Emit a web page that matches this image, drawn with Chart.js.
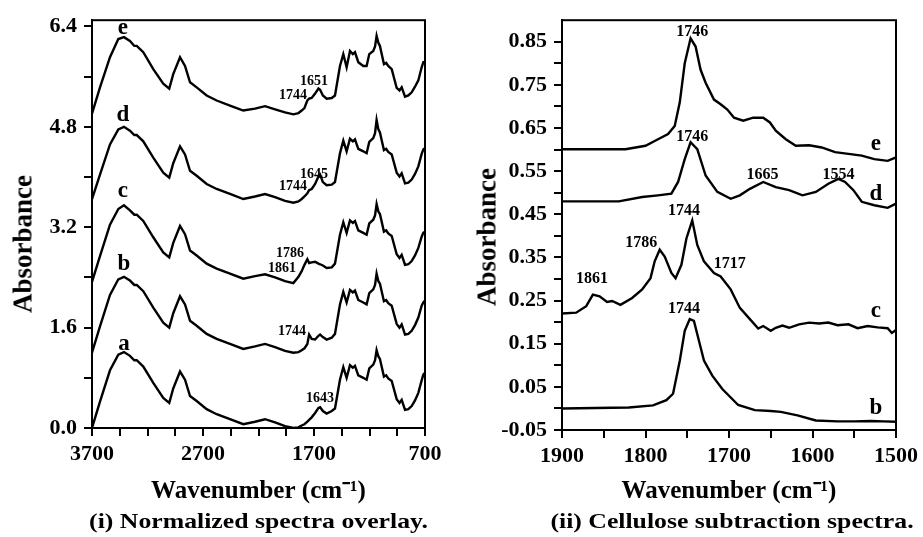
<!DOCTYPE html>
<html>
<head>
<meta charset="utf-8">
<script src="https://cdn.jsdelivr.net/npm/chart.js@4.4.1/dist/chart.umd.min.js"></script>
<style>
  html, body { margin: 0; padding: 0; background: #fff; }
  #wrap { position: relative; width: 923px; height: 537px; background: #fff; overflow: hidden; }
  .panel { position: absolute; top: 0; height: 537px; }
  .ytitle { position: absolute; transform: translate(-50%, -50%) rotate(-90deg); white-space: nowrap;
            font: bold 27px "Liberation Serif", "Times New Roman", serif; color: #000; }
  .caption { position: absolute; top: 508px; text-align: center; white-space: nowrap;
             font: bold 22px "Liberation Serif", "Times New Roman", serif; color: #000;
             transform: scaleX(1.17); }
</style>
</head>
<body>
<div id="wrap">
  <div class="panel" style="left:0;width:460px"><canvas id="leftChart" width="460" height="537"></canvas></div>
  <div class="panel" style="left:460px;width:463px"><canvas id="rightChart" width="463" height="537"></canvas></div>
  <div class="ytitle" style="left:23px;top:244px">Absorbance</div>
  <div class="ytitle" style="left:487px;top:237px">Absorbance</div>
  <div class="caption" style="left:92px;width:333px">(i) Normalized spectra overlay.</div>
  <div class="caption" style="left:562px;width:340px">(ii) Cellulose subtraction spectra.</div>
</div>
<script>
// ---- (i) normalized spectra overlay ----
var leftWavenumbers = [3700, 3628, 3538, 3463, 3412, 3358, 3319, 3297, 3238, 3148, 3058, 3004, 2968, 2907, 2862,
  2817, 2757, 2667, 2577, 2457, 2337, 2231, 2141, 2051, 1961, 1886, 1840, 1811, 1786, 1760, 1744, 1721, 1690,
  1660, 1645, 1620, 1586, 1540, 1511, 1466, 1436, 1406, 1376, 1350, 1331, 1301, 1256, 1226, 1202, 1166, 1150,
  1136, 1120, 1106, 1070, 1050, 1031, 1000, 955, 930, 910, 880, 850, 820, 790, 760, 730, 715, 700];

var spectrumA = [0.00, 0.42, 0.92, 1.17, 1.21, 1.15, 1.08, 1.08, 0.98, 0.72, 0.48, 0.40, 0.63, 0.90, 0.77,
  0.51, 0.43, 0.30, 0.22, 0.14, 0.06, 0.10, 0.14, 0.09, 0.03, 0.00, 0.01, 0.04, 0.06, 0.10, 0.13, 0.17, 0.24,
  0.32, 0.33, 0.27, 0.23, 0.27, 0.31, 0.77, 0.97, 0.80, 1.00, 0.96, 0.99, 0.84, 0.80, 0.77, 0.95, 1.01, 1.08,
  1.24, 1.14, 1.10, 0.82, 0.84, 0.79, 0.75, 0.46, 0.40, 0.45, 0.29, 0.30, 0.35, 0.44, 0.56, 0.76, 0.85, 0.88];
var spectrumB = [1.20, 1.62, 2.12, 2.37, 2.41, 2.35, 2.28, 2.28, 2.18, 1.92, 1.68, 1.60, 1.83, 2.10, 1.97,
  1.71, 1.63, 1.50, 1.42, 1.34, 1.26, 1.30, 1.34, 1.29, 1.23, 1.20, 1.21, 1.24, 1.27, 1.34, 1.49, 1.42, 1.41,
  1.47, 1.49, 1.45, 1.41, 1.44, 1.50, 1.97, 2.17, 2.00, 2.20, 2.16, 2.19, 2.04, 2.00, 1.97, 2.15, 2.21, 2.28,
  2.46, 2.34, 2.30, 2.02, 2.04, 1.99, 1.95, 1.66, 1.60, 1.65, 1.49, 1.50, 1.55, 1.64, 1.76, 1.95, 2.00, 2.03];
var spectrumC = [2.33, 2.74, 3.24, 3.49, 3.55, 3.47, 3.40, 3.40, 3.30, 3.04, 2.80, 2.72, 2.95, 3.22, 3.09,
  2.83, 2.75, 2.62, 2.54, 2.46, 2.38, 2.42, 2.45, 2.40, 2.34, 2.31, 2.41, 2.50, 2.60, 2.69, 2.63, 2.64, 2.65,
  2.62, 2.61, 2.59, 2.55, 2.56, 2.62, 3.08, 3.28, 3.11, 3.31, 3.27, 3.30, 3.15, 3.11, 3.08, 3.26, 3.32, 3.39,
  3.57, 3.45, 3.41, 3.13, 3.15, 3.10, 3.06, 2.77, 2.71, 2.76, 2.60, 2.61, 2.66, 2.75, 2.87, 3.05, 3.11, 3.13];
var spectrumD = [3.65, 4.04, 4.52, 4.76, 4.80, 4.74, 4.67, 4.67, 4.57, 4.31, 4.07, 3.99, 4.22, 4.49, 4.36,
  4.10, 4.02, 3.89, 3.81, 3.73, 3.65, 3.69, 3.73, 3.68, 3.62, 3.59, 3.61, 3.65, 3.69, 3.74, 3.79, 3.81, 3.89,
  4.01, 4.04, 3.92, 3.87, 3.88, 3.92, 4.38, 4.58, 4.41, 4.61, 4.57, 4.60, 4.45, 4.41, 4.38, 4.56, 4.62, 4.70,
  4.91, 4.76, 4.71, 4.43, 4.45, 4.40, 4.36, 4.07, 4.01, 4.06, 3.90, 3.91, 3.96, 4.05, 4.17, 4.37, 4.44, 4.46];
var spectrumE = [5.01, 5.43, 5.91, 6.20, 6.23, 6.17, 6.09, 6.09, 5.99, 5.72, 5.49, 5.41, 5.64, 5.91, 5.77,
  5.51, 5.43, 5.30, 5.22, 5.14, 5.06, 5.09, 5.13, 5.08, 5.03, 5.00, 5.02, 5.06, 5.10, 5.22, 5.25, 5.26, 5.33,
  5.41, 5.39, 5.30, 5.25, 5.26, 5.30, 5.77, 5.96, 5.75, 6.01, 5.96, 5.99, 5.83, 5.77, 5.77, 5.96, 6.01, 6.08,
  6.25, 6.14, 6.09, 5.80, 5.82, 5.77, 5.72, 5.42, 5.38, 5.43, 5.28, 5.30, 5.35, 5.44, 5.54, 5.75, 5.83, 5.84];

var leftXTicks = [3700, 3450, 3200, 2950, 2700, 2450, 2200, 1950, 1700, 1450, 1200, 950, 700];
var leftXLabels = [3700, 2700, 1700, 700];
var leftYTicks = [0, 0.8, 1.6, 2.4, 3.2, 4.0, 4.8, 5.6, 6.4];
var leftYLabels = [0, 1.6, 3.2, 4.8, 6.4];

var leftPeakText = ["1651", "1744", "1645", "1744", "1786", "1861", "1744", "1643"];
var leftPeakX = [1700, 1889, 1700, 1889, 1916, 1988, 1898, 1646];
var leftPeakY = [5.52, 5.30, 4.05, 3.85, 2.79, 2.54, 1.54, 0.47];
var leftCurveText = ["e", "d", "c", "b", "a"];
var leftCurveX = [3421, 3421, 3421, 3412, 3412];
var leftCurveY = [6.38, 4.98, 3.77, 2.62, 1.34];

// ---- (ii) cellulose subtraction spectra ----
var bWavenumbers = [1900, 1860, 1820, 1791, 1775, 1767, 1759, 1753, 1747, 1742, 1736, 1730, 1720, 1708, 1689,
  1669, 1650, 1638, 1618, 1596, 1570, 1550, 1530, 1515, 1500];
var bAbsorbance = [0.000, 0.001, 0.002, 0.007, 0.019, 0.034, 0.110, 0.180, 0.207, 0.203, 0.157, 0.111, 0.076,
  0.045, 0.008, -0.004, -0.006, -0.008, -0.016, -0.028, -0.030, -0.030, -0.029, -0.030, -0.031];
var cWavenumbers = [1900, 1883, 1871, 1863, 1855, 1846, 1840, 1830, 1816, 1804, 1794, 1789, 1783, 1777, 1769,
  1764, 1757, 1751, 1744, 1738, 1730, 1718, 1710, 1698, 1687, 1675, 1665, 1659, 1650, 1644, 1636, 1628, 1616,
  1604, 1592, 1581, 1570, 1557, 1546, 1534, 1522, 1510, 1505, 1500];
var cAbsorbance = [0.220, 0.222, 0.237, 0.264, 0.260, 0.247, 0.249, 0.240, 0.256, 0.276, 0.302, 0.341, 0.368,
  0.352, 0.314, 0.302, 0.333, 0.394, 0.436, 0.379, 0.341, 0.314, 0.306, 0.276, 0.233, 0.207, 0.185, 0.191,
  0.180, 0.187, 0.192, 0.187, 0.195, 0.199, 0.197, 0.199, 0.193, 0.195, 0.186, 0.191, 0.188, 0.186, 0.175, 0.182];
var dWavenumbers = [1900, 1863, 1832, 1804, 1785, 1769, 1761, 1753, 1746, 1738, 1728, 1714, 1698, 1687, 1675,
  1659, 1644, 1628, 1612, 1596, 1581, 1569, 1561, 1551, 1541, 1526, 1510, 1500];
var dAbsorbance = [0.480, 0.480, 0.480, 0.490, 0.494, 0.498, 0.525, 0.578, 0.617, 0.601, 0.540, 0.502, 0.486,
  0.494, 0.509, 0.525, 0.513, 0.506, 0.494, 0.502, 0.521, 0.532, 0.525, 0.506, 0.479, 0.471, 0.465, 0.475];
var eWavenumbers = [1900, 1824, 1800, 1785, 1773, 1765, 1759, 1753, 1746, 1740, 1734, 1728, 1718, 1710, 1702,
  1694, 1683, 1671, 1659, 1651, 1644, 1632, 1620, 1604, 1589, 1573, 1557, 1541, 1526, 1510, 1500];
var eAbsorbance = [0.601, 0.601, 0.609, 0.624, 0.636, 0.655, 0.709, 0.800, 0.858, 0.839, 0.785, 0.755, 0.716,
  0.705, 0.693, 0.674, 0.667, 0.674, 0.674, 0.663, 0.644, 0.624, 0.609, 0.610, 0.605, 0.594, 0.590, 0.586,
  0.578, 0.574, 0.582];

var rightXTicks = [1900, 1850, 1800, 1750, 1700, 1650, 1600, 1550, 1500];
var rightXLabels = [1900, 1800, 1700, 1600, 1500];
var rightYTicks = [-0.05, 0, 0.05, 0.10, 0.15, 0.20, 0.25, 0.30, 0.35, 0.40, 0.45, 0.50, 0.55, 0.60, 0.65,
  0.70, 0.75, 0.80, 0.85];
var rightYLabels = [-0.05, 0.05, 0.15, 0.25, 0.35, 0.45, 0.55, 0.65, 0.75, 0.85];

var rightPeakText = ["1746", "1746", "1665", "1554", "1744", "1786", "1861", "1717", "1744"];
var rightPeakX = [1744, 1744, 1660, 1569, 1754, 1805, 1864, 1699, 1754];
var rightPeakY = [0.874, 0.630, 0.541, 0.541, 0.458, 0.384, 0.300, 0.334, 0.230];
var rightCurveText = ["e", "d", "c", "b"];
var rightCurveX = [1524, 1524, 1524, 1524];
var rightCurveY = [0.612, 0.497, 0.226, 0.000];

var serif = "'Liberation Serif', 'Times New Roman', serif";
Chart.defaults.font.family = serif;
Chart.defaults.color = '#000';

function points(xs, ys) {
  return xs.map(function (x, i) { return { x: x, y: ys[i] }; });
}

function has(list, v) {
  return list.some(function (t) { return Math.abs(t - v) < 1e-6; });
}

function spectrumSet(xs, ys) {
  return { data: points(xs, ys), borderColor: '#000', borderWidth: 2.4, pointRadius: 0,
           tension: 0, fill: false };
}

// frame round the plot area plus the text labels inside it
var framePlugin = {
  id: 'frame',
  afterDraw: function (chart, args, opts) {
    var ctx = chart.ctx, a = chart.chartArea;
    ctx.save();
    ctx.strokeStyle = '#000';
    ctx.lineWidth = 2;
    ctx.strokeRect(a.left, a.top, a.right - a.left, a.bottom - a.top);
    ctx.fillStyle = '#000';
    ctx.textAlign = 'center';
    ctx.textBaseline = 'middle';
    var xs = chart.scales.x, ys = chart.scales.y;
    ctx.font = 'bold ' + opts.peakSize + 'px ' + serif;
    opts.peakText.forEach(function (t, i) {
      ctx.fillText(t, xs.getPixelForValue(opts.peakX[i]), ys.getPixelForValue(opts.peakY[i]));
    });
    ctx.font = 'bold 23px ' + serif;
    opts.curveText.forEach(function (t, i) {
      ctx.fillText(t, xs.getPixelForValue(opts.curveX[i]), ys.getPixelForValue(opts.curveY[i]));
    });
    ctx.restore();
  }
};

function axisStyle() {
  return {
    grid: { display: true, drawOnChartArea: false, drawTicks: true, tickLength: 8, color: '#000', lineWidth: 2 },
    border: { display: true, color: '#000', width: 2 }
  };
}

function makeChart(id, sets, cfg) {
  var xAxis = axisStyle(), yAxis = axisStyle();
  Object.assign(xAxis, {
    type: 'linear', min: cfg.xMin, max: cfg.xMax, reverse: true,
    afterBuildTicks: function (axis) { axis.ticks = cfg.xTicks.map(function (v) { return { value: v }; }); },
    afterFit: function (axis) { axis.height = cfg.xHeight; },
    ticks: { autoSkip: false, maxRotation: 0, padding: 5, color: '#000', font: { size: 22, weight: 'bold' },
             callback: function (v) { return has(cfg.xLabels, v) ? String(v) : ''; } },
    title: { display: true, text: 'Wavenumber (cm\u207B\u00B9)', color: '#000',
             font: { size: 25, weight: 'bold' }, padding: { top: 2, bottom: 0 } }
  });
  Object.assign(yAxis, {
    type: 'linear', min: cfg.yMin, max: cfg.yMax,
    afterBuildTicks: function (axis) { axis.ticks = cfg.yTicks.map(function (v) { return { value: v }; }); },
    afterFit: function (axis) { axis.width = cfg.yWidth; },
    ticks: { autoSkip: false, padding: 7, color: '#000', font: { size: 22, weight: 'bold' },
             callback: function (v) { return has(cfg.yLabels, v) ? v.toFixed(cfg.yDigits) : ''; } }
  });
  return new Chart(document.getElementById(id), {
    type: 'line',
    data: { datasets: sets },
    options: {
      responsive: false,
      animation: false,
      devicePixelRatio: 1,
      layout: { padding: cfg.padding },
      scales: { x: xAxis, y: yAxis },
      plugins: {
        legend: { display: false },
        tooltip: { enabled: false },
        frame: cfg.labels
      }
    },
    plugins: [framePlugin]
  });
}

makeChart('leftChart', [
  spectrumSet(leftWavenumbers, spectrumA),
  spectrumSet(leftWavenumbers, spectrumB),
  spectrumSet(leftWavenumbers, spectrumC),
  spectrumSet(leftWavenumbers, spectrumD),
  spectrumSet(leftWavenumbers, spectrumE)
], {
  xMin: 700, xMax: 3700, xTicks: leftXTicks, xLabels: leftXLabels, xHeight: 79,
  yMin: 0, yMax: 6.5, yTicks: leftYTicks, yLabels: leftYLabels, yDigits: 1, yWidth: 92,
  padding: { top: 16, right: 35, bottom: 30, left: 0 },
  labels: { peakText: leftPeakText, peakX: leftPeakX, peakY: leftPeakY, peakSize: 14,
            curveText: leftCurveText, curveX: leftCurveX, curveY: leftCurveY }
});

makeChart('rightChart', [
  spectrumSet(bWavenumbers, bAbsorbance),
  spectrumSet(cWavenumbers, cAbsorbance),
  spectrumSet(dWavenumbers, dAbsorbance),
  spectrumSet(eWavenumbers, eAbsorbance)
], {
  xMin: 1500, xMax: 1900, xTicks: rightXTicks, xLabels: rightXLabels, xHeight: 77,
  yMin: -0.05, yMax: 0.9, yTicks: rightYTicks, yLabels: rightYLabels, yDigits: 2, yWidth: 102,
  padding: { top: 17, right: 21, bottom: 30, left: 0 },
  labels: { peakText: rightPeakText, peakX: rightPeakX, peakY: rightPeakY, peakSize: 16,
            curveText: rightCurveText, curveX: rightCurveX, curveY: rightCurveY }
});
</script>
</body>
</html>
